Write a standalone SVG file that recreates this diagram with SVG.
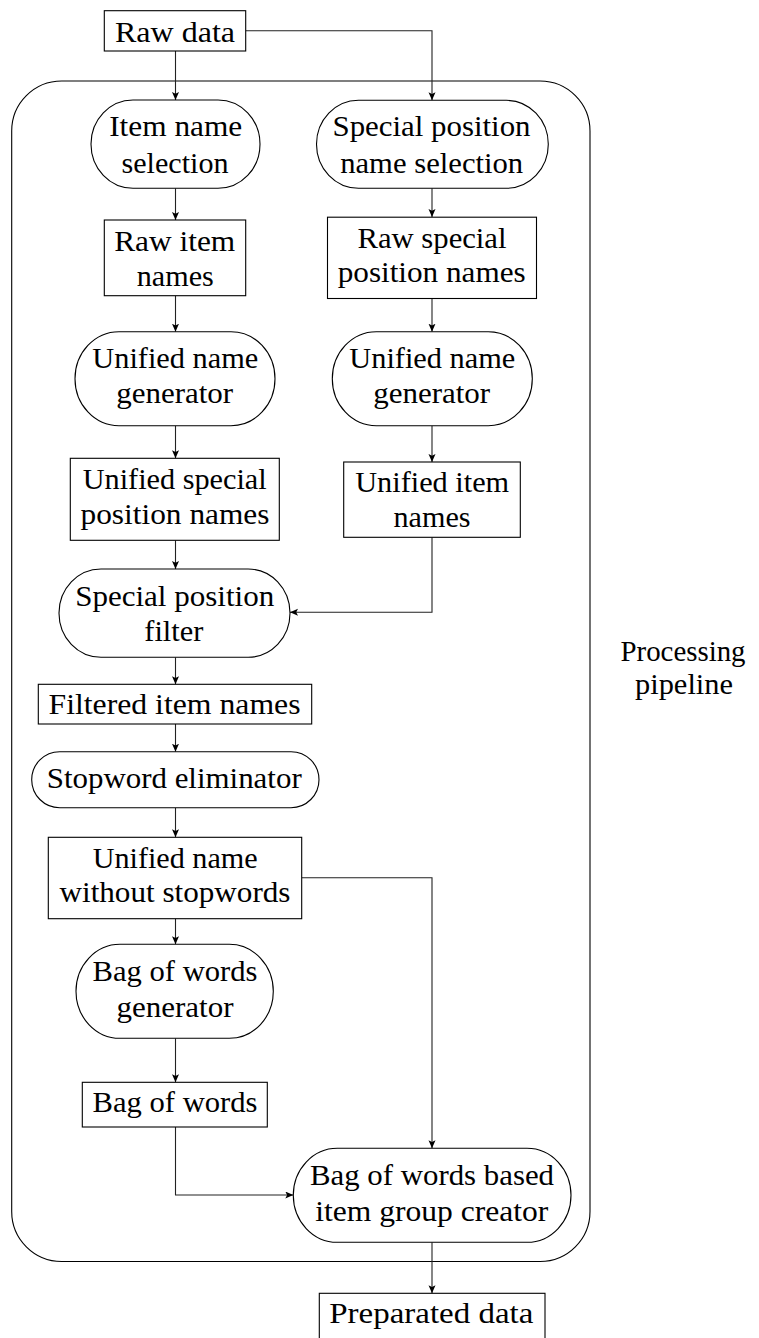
<svg xmlns="http://www.w3.org/2000/svg" width="759" height="1338" viewBox="0 0 759 1338">
<style>
  .box { fill: #fff; stroke: #000; stroke-width: 1.1; }
  .frame { fill: none; stroke: #000; stroke-width: 1.1; }
  .t { font-family: 'Liberation Serif', 'Times New Roman', 'DejaVu Serif', serif; font-size: 30px; fill: #000; text-anchor: middle; }
  .c { fill: none; stroke: #222; stroke-width: 1.1; marker-end: url(#ah); }
</style>
<defs>
  <marker id="ah" markerUnits="userSpaceOnUse" markerWidth="10" markerHeight="8" refX="8" refY="3.5" orient="auto">
    <path d="M0,0 L8,3.5 L0,7 L1.8,3.5 Z" fill="#000"/>
  </marker>
</defs>
<rect width="759" height="1338" fill="#fff"/>

<g id="pipeline">
  <rect class="frame" x="11.7" y="81" width="578.3" height="1180.5" rx="50" ry="50"/>
  <text class="t" font-family="Liberation Serif, serif" x="683" y="661" textLength="125" lengthAdjust="spacingAndGlyphs">Processing</text>
  <text class="t" font-family="Liberation Serif, serif" x="684" y="694" textLength="98" lengthAdjust="spacingAndGlyphs">pipeline</text>
</g>

<g id="connectors">
  <path class="c" d="M175.5,51 V100"/>
  <path class="c" d="M245.7,30.7 H432 V100.3"/>
  <path class="c" d="M175.5,188.3 V220"/>
  <path class="c" d="M432,188.3 V217"/>
  <path class="c" d="M175.5,295.7 V331.7"/>
  <path class="c" d="M432,298.7 V331.7"/>
  <path class="c" d="M175.5,425.7 V458.3"/>
  <path class="c" d="M432,425.7 V462"/>
  <path class="c" d="M175.5,540.3 V569"/>
  <path class="c" d="M432,537.3 V612.3 H290"/>
  <path class="c" d="M175.5,657.3 V684.3"/>
  <path class="c" d="M175.5,724 V751.7"/>
  <path class="c" d="M175.5,807.7 V837.3"/>
  <path class="c" d="M175.5,918.7 V944.3"/>
  <path class="c" d="M301.7,877.7 H432 V1148.3"/>
  <path class="c" d="M175.5,1038.3 V1082.3"/>
  <path class="c" d="M175.5,1127 V1195 H293.3"/>
  <path class="c" d="M432,1242.3 V1293.3"/>
</g>

<g id="raw-data">
  <rect class="box" x="104.3" y="10.7" width="141.4" height="40.3"/>
  <text class="t" x="175" y="41.7" textLength="120" lengthAdjust="spacingAndGlyphs">Raw data</text>
</g>

<g id="item-name-selection">
  <rect class="box" x="91" y="100" width="169" height="88.3" rx="42" ry="44"/>
  <text class="t" x="175.7" y="135.5" textLength="133" lengthAdjust="spacingAndGlyphs">Item name</text>
  <text class="t" x="175" y="173" textLength="107" lengthAdjust="spacingAndGlyphs">selection</text>
</g>

<g id="special-position-name-selection">
  <rect class="box" x="316.5" y="100.3" width="231.8" height="88" rx="42" ry="44"/>
  <text class="t" x="431.5" y="136" textLength="198" lengthAdjust="spacingAndGlyphs">Special position</text>
  <text class="t" x="431.7" y="172.7" textLength="183" lengthAdjust="spacingAndGlyphs">name selection</text>
</g>

<g id="raw-item-names">
  <rect class="box" x="104.3" y="220" width="141.4" height="75.7"/>
  <text class="t" x="174.7" y="250.7" textLength="121" lengthAdjust="spacingAndGlyphs">Raw item</text>
  <text class="t" x="175.3" y="286" textLength="77" lengthAdjust="spacingAndGlyphs">names</text>
</g>

<g id="raw-special-position-names">
  <rect class="box" x="327.5" y="217.2" width="209" height="81.3"/>
  <text class="t" x="432" y="247.7" textLength="149" lengthAdjust="spacingAndGlyphs">Raw special</text>
  <text class="t" x="431.7" y="282.3" textLength="188" lengthAdjust="spacingAndGlyphs">position names</text>
</g>

<g id="unified-name-generator-left">
  <rect class="box" x="75" y="331.7" width="200" height="94" rx="44" ry="47"/>
  <text class="t" x="175.3" y="367.7" textLength="166" lengthAdjust="spacingAndGlyphs">Unified name</text>
  <text class="t" x="174.7" y="403.3" textLength="117" lengthAdjust="spacingAndGlyphs">generator</text>
</g>

<g id="unified-name-generator-right">
  <rect class="box" x="332.3" y="331.7" width="200" height="94" rx="44" ry="47"/>
  <text class="t" x="432.3" y="367.7" textLength="166" lengthAdjust="spacingAndGlyphs">Unified name</text>
  <text class="t" x="431.7" y="403.3" textLength="117" lengthAdjust="spacingAndGlyphs">generator</text>
</g>

<g id="unified-special-position-names">
  <rect class="box" x="70.3" y="458.3" width="209" height="82"/>
  <text class="t" x="174.7" y="488.7" textLength="184" lengthAdjust="spacingAndGlyphs">Unified special</text>
  <text class="t" x="175" y="524" textLength="189" lengthAdjust="spacingAndGlyphs">position names</text>
</g>

<g id="unified-item-names">
  <rect class="box" x="343.7" y="462" width="176.6" height="75.3"/>
  <text class="t" x="432.2" y="492.3" textLength="154" lengthAdjust="spacingAndGlyphs">Unified item</text>
  <text class="t" x="432" y="527.3" textLength="77" lengthAdjust="spacingAndGlyphs">names</text>
</g>

<g id="special-position-filter">
  <rect class="box" x="59" y="569" width="231" height="88.3" rx="42" ry="44"/>
  <text class="t" x="174.7" y="605.7" textLength="199" lengthAdjust="spacingAndGlyphs">Special position</text>
  <text class="t" x="173.8" y="641" textLength="59" lengthAdjust="spacingAndGlyphs">filter</text>
</g>

<g id="filtered-item-names">
  <rect class="box" x="38.3" y="684.3" width="273.4" height="39.7"/>
  <text class="t" x="174.5" y="714" textLength="252" lengthAdjust="spacingAndGlyphs">Filtered item names</text>
</g>

<g id="stopword-eliminator">
  <rect class="box" x="31.7" y="751.7" width="287.3" height="56" rx="28" ry="28"/>
  <text class="t" x="174.2" y="788.3" textLength="255" lengthAdjust="spacingAndGlyphs">Stopword eliminator</text>
</g>

<g id="unified-name-without-stopwords">
  <rect class="box" x="48.3" y="837.3" width="253.4" height="81.4"/>
  <text class="t" x="175.2" y="867.7" textLength="165" lengthAdjust="spacingAndGlyphs">Unified name</text>
  <text class="t" x="175" y="902.3" textLength="231" lengthAdjust="spacingAndGlyphs">without stopwords</text>
</g>

<g id="bag-of-words-generator">
  <rect class="box" x="76" y="944.3" width="197.3" height="94" rx="44" ry="47"/>
  <text class="t" x="175" y="981" textLength="165" lengthAdjust="spacingAndGlyphs">Bag of words</text>
  <text class="t" x="175" y="1016.7" textLength="117" lengthAdjust="spacingAndGlyphs">generator</text>
</g>

<g id="bag-of-words">
  <rect class="box" x="82.3" y="1082.3" width="185" height="44.7"/>
  <text class="t" x="175" y="1112.3" textLength="165" lengthAdjust="spacingAndGlyphs">Bag of words</text>
</g>

<g id="bag-of-words-based-item-group-creator">
  <rect class="box" x="293.3" y="1148.3" width="277.7" height="94" rx="44" ry="47"/>
  <text class="t" x="432" y="1185" textLength="244" lengthAdjust="spacingAndGlyphs">Bag of words based</text>
  <text class="t" x="431.7" y="1220.7" textLength="233" lengthAdjust="spacingAndGlyphs">item group creator</text>
</g>

<g id="preparated-data">
  <rect class="box" x="319.3" y="1293.3" width="225.7" height="70"/>
  <text class="t" x="431.3" y="1323.3" textLength="204" lengthAdjust="spacingAndGlyphs">Preparated data</text>
</g>
</svg>
